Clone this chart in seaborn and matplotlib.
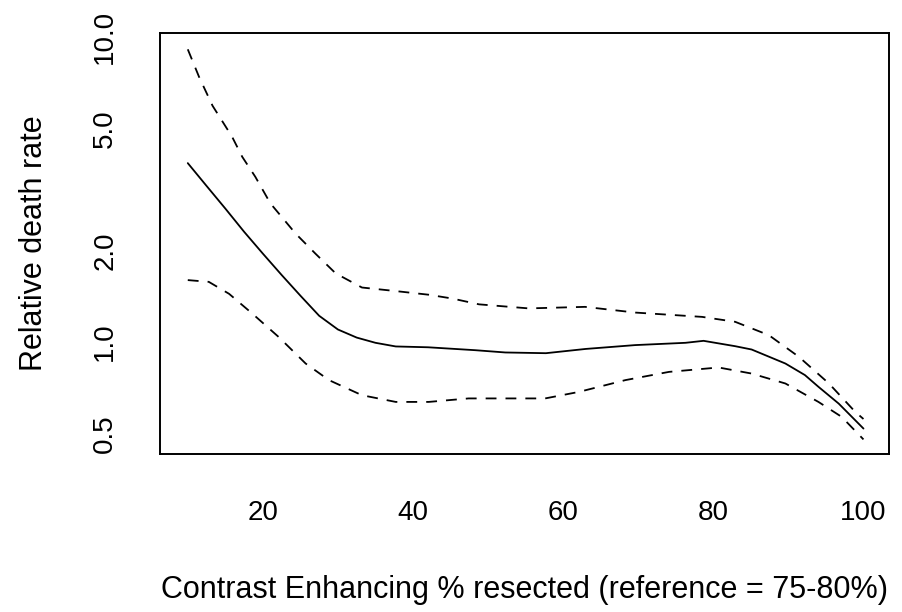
import matplotlib
matplotlib.use("Agg")
import matplotlib.pyplot as plt
import seaborn as sns
import pandas as pd
from matplotlib.ticker import FixedLocator, FixedFormatter, NullLocator

# Estimate curve
est_x = [10, 12.5, 15, 17.5, 20, 22.5, 25, 27.5, 30, 32.5, 35, 37.7, 42.0, 48.3,
         52.3, 57.7, 63.0, 69.6, 76.3, 78.7, 82.9, 85.1, 89.6, 92.2, 94.0, 96.7, 100]
est_y = [3.86, 3.25, 2.74, 2.30, 1.95, 1.66, 1.42, 1.22, 1.10, 1.035, 0.995, 0.968, 0.962, 0.941,
         0.925, 0.92, 0.95, 0.978, 0.995, 1.01, 0.97, 0.946, 0.851, 0.78, 0.714, 0.629, 0.521]

# Upper confidence band
up_x = [10, 11.5, 13.3, 15.9, 17.25, 19.0, 21.0, 24.35, 27.0, 29.7, 33.2, 37.7, 42.1, 45.2,
        48.8, 55.4, 62.9, 69.6, 78.5, 82.9, 87.4, 91.4, 95.4, 98.9, 100]
up_y = [9.11, 7.4, 5.95, 4.71, 4.05, 3.48, 2.85, 2.27, 1.95, 1.68, 1.51, 1.47, 1.43, 1.39,
        1.33, 1.29, 1.305, 1.25, 1.21, 1.166, 1.054, 0.895, 0.732, 0.591, 0.56]

# Lower confidence band
lo_x = [10, 12.8, 15.5, 18.6, 22.1, 25.7, 28.8, 33.2, 37.7, 42.1, 47.4, 57.6, 62.1,
        68.3, 74.1, 80.7, 85.1, 89.6, 94.0, 97.1, 100]
lo_y = [1.597, 1.576, 1.44, 1.24, 1.04, 0.851, 0.751, 0.67, 0.637, 0.637, 0.654, 0.654,
        0.687, 0.751, 0.799, 0.826, 0.789, 0.732, 0.637, 0.569, 0.48]

x_ticks = [20, 40, 60, 80, 100]
y_ticks = [0.5, 1.0, 2.0, 5.0, 10.0]
y_tick_labels = ["0.5", "1.0", "2.0", "5.0", "10.0"]

sns.set_style("white")
plt.rcParams["font.family"] = ["Liberation Sans", "DejaVu Sans"]
plt.rcParams["text.color"] = "black"
plt.rcParams["axes.labelcolor"] = "black"

fig = plt.figure(figsize=(9.02, 6.12), dpi=100)
ax = fig.add_axes([160 / 902, (612 - 454) / 612, (889 - 160) / 902, (454 - 33.3) / 612])

df_est = pd.DataFrame({"x": est_x, "y": est_y})
df_up = pd.DataFrame({"x": up_x, "y": up_y})
df_lo = pd.DataFrame({"x": lo_x, "y": lo_y})

sns.lineplot(data=df_est, x="x", y="y", ax=ax, color="black", linewidth=1.3,
             estimator=None, sort=True)
for d in (df_up, df_lo):
    sns.lineplot(data=d, x="x", y="y", ax=ax, color="black", linewidth=1.3,
                 estimator=None, sort=True)
lines = ax.get_lines()
for ln in lines[1:]:
    ln.set_dashes((6, 5))

ax.set_yscale("log")
ax.set_xlim(6.3, 103.4)
ax.set_ylim(0.43, 10.28)
ax.xaxis.set_major_locator(FixedLocator(x_ticks))
ax.yaxis.set_major_locator(FixedLocator(y_ticks))
ax.yaxis.set_major_formatter(FixedFormatter(y_tick_labels))
ax.yaxis.set_minor_locator(NullLocator())

for s in ax.spines.values():
    s.set_linewidth(1.4)
    s.set_color("black")

ax.tick_params(axis="both", which="major", length=13, width=1.4, color="black",
               labelsize=20, labelcolor="black", direction="out")
ax.tick_params(axis="x", pad=20)
ax.tick_params(axis="y", pad=17, labelrotation=90)
for lab in ax.get_yticklabels():
    lab.set_va("center")

ax.set_xlabel("Contrast Enhancing % resected (reference = 75-80%)", fontsize=22, color="black")
ax.set_ylabel("Relative death rate", fontsize=22, color="black")
ax.xaxis.set_label_coords(0.5, (454 - 590) / (454 - 33.3))
ax.xaxis.label.set_va("center")
ax.yaxis.set_label_coords((34 - 160) / 729, 0.5)
ax.yaxis.label.set_va("center")

fig.savefig("out.png", dpi=100, facecolor="white")
